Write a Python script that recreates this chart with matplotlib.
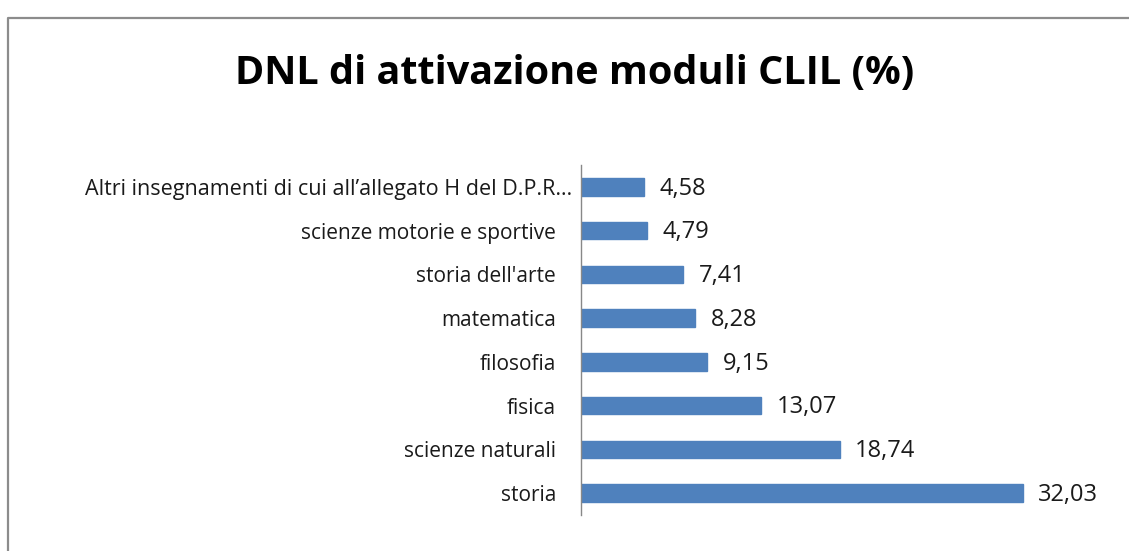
import matplotlib
matplotlib.use('Agg')
from matplotlib import pyplot as plt
from matplotlib.lines import Line2D
from matplotlib.transforms import ScaledTranslation

# Data (bottom to top)
categories = ['storia', 'scienze naturali', 'fisica', 'filosofia', 'matematica',
              "storia dell'arte", 'scienze motorie e sportive',
              'Altri insegnamenti di cui all\u2019allegato H del D.P.R\u2026']
values = [32.03, 18.74, 13.07, 9.15, 8.28, 7.41, 4.79, 4.58]

plt.rcParams['font.family'] = ['Open Sans', 'DejaVu Sans']

fig = plt.figure(figsize=(11.29, 5.51), dpi=100)
ax = fig.add_axes([0.5146, 0.0653, 0.4278, 0.6352])

pos = list(range(len(categories)))
ax.barh(pos, values, height=0.4, color='#4F81BD', edgecolor='#4F81BD')

# Value labels right of bars
for p, v in zip(pos, values):
    ax.text(v + 1.1, p - 0.04, f'{v:.2f}'.replace('.', ','), va='center', ha='left',
            fontsize=17, color='#1a1a1a')

ax.set_xlim(0, 35)
ax.set_ylim(-0.5, len(categories) - 0.5)
ax.set_yticks(pos)
ax.set_yticklabels(categories, fontsize=15, color='#1a1a1a')
ax.tick_params(axis='y', length=0, pad=18)
ax.set_xticks([])
for side in ['top', 'right', 'bottom']:
    ax.spines[side].set_visible(False)
ax.spines['left'].set_color('#888888')
ax.spines['left'].set_linewidth(1.0)

# the truncated long label overflows slightly to the right, as in the original
long_lbl = ax.get_yticklabels()[-1]
long_lbl.set_fontsize(15.5)
long_lbl.set_transform(long_lbl.get_transform() + ScaledTranslation(0.16, 0, fig.dpi_scale_trans))

fig.text(0.509, 0.866, 'DNL di attivazione moduli CLIL (%)', ha='center', va='center',
         fontsize=28.5, fontweight='bold', color='black')

# Outer frame (left and top edges visible)
fig.add_artist(Line2D([7.5 / 1129, 7.5 / 1129, 1.0], [0.0, 1 - 17.5 / 551, 1 - 17.5 / 551],
                      transform=fig.transFigure, color='#8c8c8c', linewidth=1.6))

fig.savefig('out.png', dpi=100)
